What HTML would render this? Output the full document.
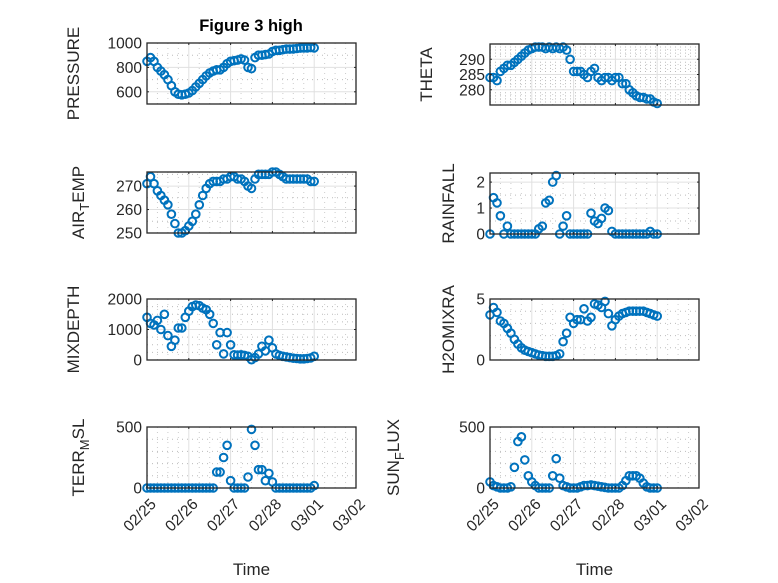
<!DOCTYPE html>
<html><head><meta charset="utf-8"><style>
html,body{margin:0;padding:0;background:#fff;}
svg{display:block;font-family:"Liberation Sans",sans-serif;}
</style></head><body>
<svg id="fig" width="778" height="583" viewBox="0 0 778 583" xmlns="http://www.w3.org/2000/svg">
<rect width="778" height="583" fill="#fff"/>
<text x="251" y="31" text-anchor="middle" font-weight="bold" font-size="16.5" fill="#000">Figure 3 high</text>
</svg>
<script>
const dayLabels = ["02/25","02/26","02/27","02/28","03/01","03/02"];
const timeHours = [0,2,4,6,8,10,12,14,16,18,20,22,24,26,28,30,32,34,36,38,40,42,44,46,48,50,52,54,56,58,60,62,64,66,68,70,72,74,76,78,80,82,84,86,88,90,92,94,96];
const pressure = [850,880,850,800,770,740,700,650,600,580,575,580,590,610,640,670,700,730,755,770,780,780,800,830,850,855,860,870,860,800,790,880,900,900,905,910,930,940,940,945,950,950,952,955,958,960,960,962,960];
const airTemp = [271,274,271,268,266,264,262,258,254,250,250,251,253,255,258,262,266,269,271,272,272,272,273,273,274,274,273,273,272,270,269,273,275,275,275,275,276,276,275,274,273,273,273,273,273,273,273,272,272];
const mixDepth = [1400,1200,1150,1300,1000,1500,800,450,650,1050,1050,1400,1600,1750,1800,1780,1700,1650,1500,1200,500,900,200,900,500,170,160,170,150,120,10,80,200,450,300,650,400,200,150,120,100,80,60,50,40,40,50,70,120];
const terrMsl = [0,0,0,0,0,0,0,0,0,0,0,0,0,0,0,0,0,0,0,0,130,130,250,350,60,0,0,0,0,90,480,350,150,150,60,120,50,0,0,0,0,0,0,0,0,0,0,0,20];
const theta = [284,284,283,286,287,288,288,289,290,291,292,293,293.5,294,294,294,293.5,294,293.5,294,293.5,294,293,290,286,286,286,285,284,286,287,284,283,284,284,283,284,284,282,282,280,279,278,277.5,277.5,277,277,276,275.5];
const rainfall = [0,1.4,1.2,0.7,0,0.3,0,0,0,0,0,0,0,0,0.2,0.3,1.2,1.3,2.0,2.25,0,0.3,0.7,0,0,0,0,0,0,0.8,0.5,0.4,0.6,1.0,0.9,0.1,0,0,0,0,0,0,0,0,0,0,0.1,0,0];
const h2oMix = [3.7,4.3,3.9,3.2,3.0,2.6,2.2,1.7,1.3,1.0,0.8,0.7,0.6,0.5,0.4,0.35,0.3,0.3,0.3,0.35,0.5,1.5,2.2,3.5,3.0,3.3,3.3,4.2,3.2,3.5,4.6,4.5,4.3,4.8,3.8,2.8,3.3,3.6,3.8,3.9,4.0,4.0,4.0,4.0,4.0,3.9,3.8,3.7,3.6];
const sunFlux = [50,20,10,0,0,0,10,170,380,420,230,100,50,20,0,0,0,0,100,240,80,20,10,0,0,0,10,20,20,25,20,15,10,5,0,0,0,0,20,60,100,100,100,80,40,10,0,0,0];

const NS="http://www.w3.org/2000/svg";
const svg=document.getElementById('fig');
function mk(tag,attrs,parent){const e=document.createElementNS(NS,tag);for(const k in attrs)e.setAttribute(k,attrs[k]);(parent||svg).appendChild(e);return e;}

const panels=[
 {name:'pressure',data:pressure,x0:147,y0:43,min:500,max:1000,ticks:[600,800,1000],minor:100,label:['PRESSURE'],lx:79},
 {name:'theta',data:theta,x0:490,y0:44,min:275,max:295,ticks:[280,285,290],minor:1,label:['THETA'],lx:432},
 {name:'air-temp',data:airTemp,x0:147,y0:172,min:250,max:276,ticks:[250,260,270],minor:5,label:['AIR','T','EMP'],lx:84},
 {name:'rainfall',data:rainfall,x0:490,y0:173,min:0,max:2.35,ticks:[0,1,2],minor:0.5,label:['RAINFALL'],lx:454},
 {name:'mixdepth',data:mixDepth,x0:147,y0:299,min:0,max:2000,ticks:[0,1000,2000],minor:250,label:['MIXDEPTH'],lx:79},
 {name:'h2omixra',data:h2oMix,x0:490,y0:299,min:0,max:5,ticks:[0,5],minor:1,label:['H2OMIXRA'],lx:454},
 {name:'terr-msl',data:terrMsl,x0:147,y0:427,min:0,max:500,ticks:[0,500],minor:100,label:['TERR','M','SL'],lx:84},
 {name:'sun-flux',data:sunFlux,x0:490,y0:427,min:0,max:500,ticks:[0,500],minor:100,label:['SUN','F','LUX'],lx:399},
];
const W=209,H=61,DAYS=5;
panels.forEach((p,idx)=>{
  const g=mk('g',{});
  
  
  const xs=h=>p.x0+h/(24*DAYS)*W;
  const ys=v=>p.y0+H-(v-p.min)/(p.max-p.min)*H;
  mk('rect',{x:p.x0,y:p.y0,width:W,height:H,fill:'#fff'},g);
  for(let v=Math.ceil(p.min/p.minor)*p.minor; v<=p.max+1e-9; v+=p.minor){
    if(p.ticks.some(t=>Math.abs(t-v)<1e-9))continue;
    const y=ys(v); if(y<p.y0+0.5||y>p.y0+H-0.5)continue;
    mk('line',{x1:p.x0,x2:p.x0+W,y1:y,y2:y,stroke:'#bbb','stroke-width':1,'stroke-dasharray':'1,4'},g);
  }
  for(let h=6;h<24*DAYS;h+=6){ if(h%24===0)continue; const x=xs(h);
    mk('line',{x1:x,x2:x,y1:p.y0,y2:p.y0+H,stroke:'#ccc','stroke-width':1,'stroke-dasharray':'1,4'},g);}
  p.ticks.forEach(t=>{const y=ys(t);mk('line',{x1:p.x0,x2:p.x0+W,y1:y,y2:y,stroke:'#e0e0e0','stroke-width':1},g);});
  for(let d=1;d<DAYS;d++){const x=xs(d*24);mk('line',{x1:x,x2:x,y1:p.y0,y2:p.y0+H,stroke:'#e0e0e0','stroke-width':1},g);}
  p.data.forEach((v,i)=>{
    const c=mk('circle',{cx:xs(timeHours[i]).toFixed(1),cy:ys(v).toFixed(1),r:3.8,fill:'none',stroke:'#0072BD','stroke-width':2},g);
    
    
  });
  mk('rect',{x:p.x0,y:p.y0,width:W,height:H,fill:'none',stroke:'#262626','stroke-width':1.3},g);
  p.ticks.forEach(t=>{const y=ys(t);
    mk('line',{x1:p.x0,x2:p.x0+2,y1:y,y2:y,stroke:'#262626'},g);
    mk('line',{x1:p.x0+W,x2:p.x0+W-2,y1:y,y2:y,stroke:'#262626'},g);
    const tx=mk('text',{x:p.x0-5,y:y+5.5,'text-anchor':'end','font-size':15.5,fill:'#262626'},g);
    tx.textContent=String(t);
    
    
  });
  for(let d=0;d<=DAYS;d++){const x=xs(d*24);
    mk('line',{x1:x,x2:x,y1:p.y0,y2:p.y0+2,stroke:'#262626'},g);
    mk('line',{x1:x,x2:x,y1:p.y0+H,y2:p.y0+H-2,stroke:'#262626'},g);}
  const cy=p.y0+H/2;
  const lt=mk('text',{x:0,y:0,'text-anchor':'middle','font-size':17,fill:'#262626',transform:`translate(${p.lx},${cy}) rotate(-90)`},g);
  
  
  if(p.label.length===1){lt.textContent=p.label[0];}
  else{
    const a=mk('tspan',{},lt);a.textContent=p.label[0];
    const b=mk('tspan',{dy:5,'font-size':13},lt);b.textContent=p.label[1];
    const c=mk('tspan',{dy:-5},lt);c.textContent=p.label[2];
  }
  if(idx>=6){
    for(let d=0;d<=DAYS;d++){const x=xs(d*24);
      const t=mk('text',{x:0,y:0,'text-anchor':'end','font-size':15.5,fill:'#262626',transform:`translate(${x+10},${p.y0+H+17}) rotate(-45)`},g);
      t.textContent=dayLabels[d];
      
      
    }
    const xl=mk('text',{x:p.x0+W/2,y:575,'text-anchor':'middle','font-size':17,fill:'#262626'},g);
    xl.textContent='Time';
    
    
  }
});
</script>
</body></html>
